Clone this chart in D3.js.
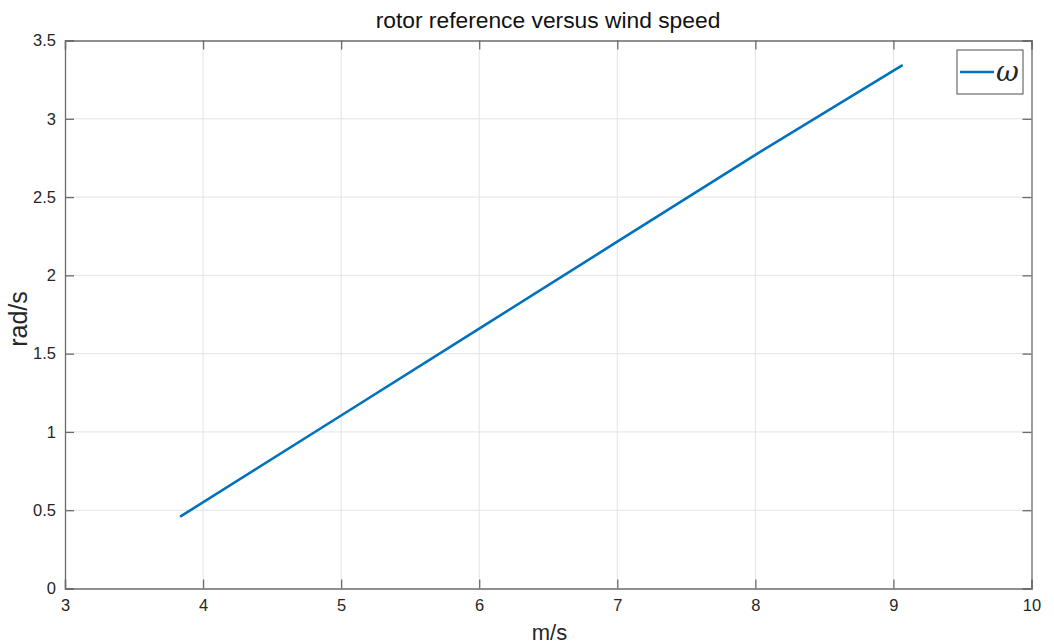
<!DOCTYPE html>
<html>
<head>
<meta charset="utf-8">
<script src="https://cdn.jsdelivr.net/npm/d3@7"></script>
<style>
  html, body { margin: 0; padding: 0; background: #fff; }
  svg { display: block; font-family: "Liberation Sans", Arial, Helvetica, sans-serif; }
</style>
</head>
<body>
<svg id="chart" width="1054" height="644"></svg>
<script>
// Rotor speed reference (rad/s) against wind speed (m/s)
const windSpeed = [3.84, 5, 6, 7, 8, 9.06];
const rotorSpeed = [0.462, 1.105, 1.66, 2.215, 2.77, 3.34];
const xTicks = [3, 4, 5, 6, 7, 8, 9, 10];
const yTicks = [0, 0.5, 1, 1.5, 2, 2.5, 3, 3.5];
const seriesName = "\u03C9";

const m = { left: 65, right: 1031.5, top: 40.5, bottom: 588.5 };

const svg = d3.select("#chart");
const x = d3.scaleLinear().domain([3, 10]).range([m.left, m.right]);
const y = d3.scaleLinear().domain([0, 3.5]).range([m.bottom, m.top]);

const axisColor = "#6b6b6b";
const textColor = "#262626";
const tickLen = 9;

// grid
const grid = svg.append("g");
grid.selectAll(".gx").data(xTicks.slice(1, -1)).enter().append("line")
  .attr("x1", d => x(d)).attr("x2", d => x(d))
  .attr("y1", m.top).attr("y2", m.bottom)
  .attr("stroke", "#e3e3e3").attr("stroke-width", 1);
grid.selectAll(".gy").data(yTicks.slice(1, -1)).enter().append("line")
  .attr("y1", d => y(d)).attr("y2", d => y(d))
  .attr("x1", m.left).attr("x2", m.right)
  .attr("stroke", "#e3e3e3").attr("stroke-width", 1);

// axes (inward ticks on all four sides)
const fmt = d3.format("");
const bottomAxis = d3.axisBottom(x).tickValues(xTicks).tickFormat(fmt).tickSize(-tickLen).tickPadding(10.5);
const leftAxis = d3.axisLeft(y).tickValues(yTicks).tickFormat(fmt).tickSize(-tickLen).tickPadding(9);
const topAxis = d3.axisTop(x).tickValues(xTicks).tickFormat("").tickSize(-tickLen);
const rightAxis = d3.axisRight(y).tickValues(yTicks).tickFormat("").tickSize(-tickLen);

function styleAxis(g) {
  g.select(".domain").attr("stroke", axisColor).attr("stroke-width", 1.3);
  g.selectAll(".tick line").attr("stroke", axisColor).attr("stroke-width", 1.3);
  g.selectAll(".tick text").attr("fill", textColor).attr("font-size", 16.5)
    .attr("font-family", "Liberation Sans, Arial, sans-serif");
}

svg.append("g").attr("transform", `translate(0,${m.bottom})`).call(bottomAxis).call(styleAxis);
svg.append("g").attr("transform", `translate(${m.left},0)`).call(leftAxis).call(styleAxis);
svg.append("g").attr("transform", `translate(0,${m.top})`).call(topAxis).call(styleAxis);
svg.append("g").attr("transform", `translate(${m.right},0)`).call(rightAxis).call(styleAxis);

// data line
const line = d3.line().x(d => x(d[0])).y(d => y(d[1]));
svg.append("path")
  .datum(windSpeed.map((v, i) => [v, rotorSpeed[i]]))
  .attr("d", line)
  .attr("fill", "none")
  .attr("stroke", "#0072BD")
  .attr("stroke-width", 2.6)
  .attr("stroke-linecap", "round");

// title and axis labels
svg.append("text").attr("x", 548).attr("y", 28)
  .attr("text-anchor", "middle").attr("font-size", 22.8).attr("fill", "#111")
  .text("rotor reference versus wind speed");
svg.append("text").attr("x", 549.5).attr("y", 640)
  .attr("text-anchor", "middle").attr("font-size", 22).attr("fill", textColor)
  .text("m/s");
svg.append("text").attr("transform", `translate(27,319) rotate(-90)`)
  .attr("text-anchor", "middle").attr("font-size", 25).attr("fill", textColor)
  .text("rad/s");

// legend
const lg = svg.append("g").attr("transform", "translate(957,50)");
lg.append("rect").attr("width", 66).attr("height", 44)
  .attr("fill", "#fff").attr("stroke", axisColor).attr("stroke-width", 1.2);
lg.append("line").attr("x1", 3).attr("x2", 37).attr("y1", 22).attr("y2", 22)
  .attr("stroke", "#0072BD").attr("stroke-width", 2.6);
lg.append("text").attr("x", 39).attr("y", 31)
  .attr("font-family", "DejaVu Serif, Liberation Serif, serif").attr("font-style", "italic")
  .attr("font-size", 28).attr("fill", textColor).text(seriesName);
</script>
</body>
</html>
